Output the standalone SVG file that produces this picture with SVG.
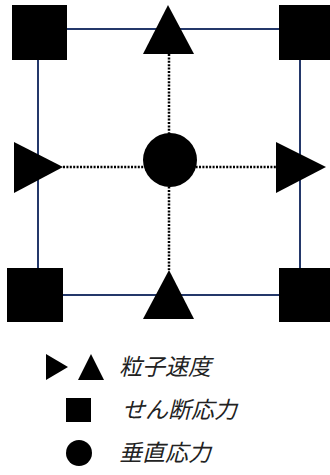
<svg xmlns="http://www.w3.org/2000/svg" width="330" height="475" viewBox="0 0 330 475">
<style>
.frame{stroke:#24386a;stroke-width:2;fill:none}
.dot{stroke:#000;stroke-width:2.5;stroke-dasharray:2 1.4;fill:none}
.shape{fill:#000}
.lbl{font-family:"Noto Sans CJK JP","Noto Sans CJK SC",sans-serif;font-style:italic;font-size:23px;fill:#222}
</style>
<rect width="330" height="475" fill="#fff"/>
<g id="connectors">
<line class="frame" x1="38" y1="29" x2="300" y2="29"/>
<line class="frame" x1="38" y1="295" x2="300" y2="295"/>
<line class="frame" x1="38" y1="29" x2="38" y2="295"/>
<line class="frame" x1="300" y1="29" x2="300" y2="295"/>
<line class="dot" x1="169" y1="54" x2="169" y2="270"/>
<line class="dot" x1="63" y1="167" x2="276" y2="167"/>
</g>
<g id="sq-tl"><rect class="shape" x="12" y="5" width="55" height="55"/></g>
<g id="sq-tr"><rect class="shape" x="279" y="5" width="55" height="55"/></g>
<g id="sq-bl"><rect class="shape" x="7" y="268" width="56" height="54"/></g>
<g id="sq-br"><rect class="shape" x="279" y="268" width="55" height="54"/></g>
<g id="tri-top"><polygon class="shape" points="168,5 194,54 143,54"/></g>
<g id="tri-bottom"><polygon class="shape" points="169,270 194,319 143,319"/></g>
<g id="tri-left"><polygon class="shape" points="14,142 63,167 14,193"/></g>
<g id="tri-right"><polygon class="shape" points="276,142 326,167 276,193"/></g>
<g id="circle-center"><circle class="shape" cx="170" cy="160" r="27"/></g>
<g id="legend-velocity">
<polygon class="shape" points="46,354 68,367 46,380"/>
<polygon class="shape" points="91,354 104,380 78,380"/>
<text class="lbl" x="119" y="375">粒子速度</text>
</g>
<g id="legend-shear">
<rect class="shape" x="66" y="398" width="25" height="24"/>
<text class="lbl" x="122" y="418">せん断応力</text>
</g>
<g id="legend-normal">
<circle class="shape" cx="79" cy="453" r="13"/>
<text class="lbl" x="119" y="461">垂直応力</text>
</g>
</svg>
